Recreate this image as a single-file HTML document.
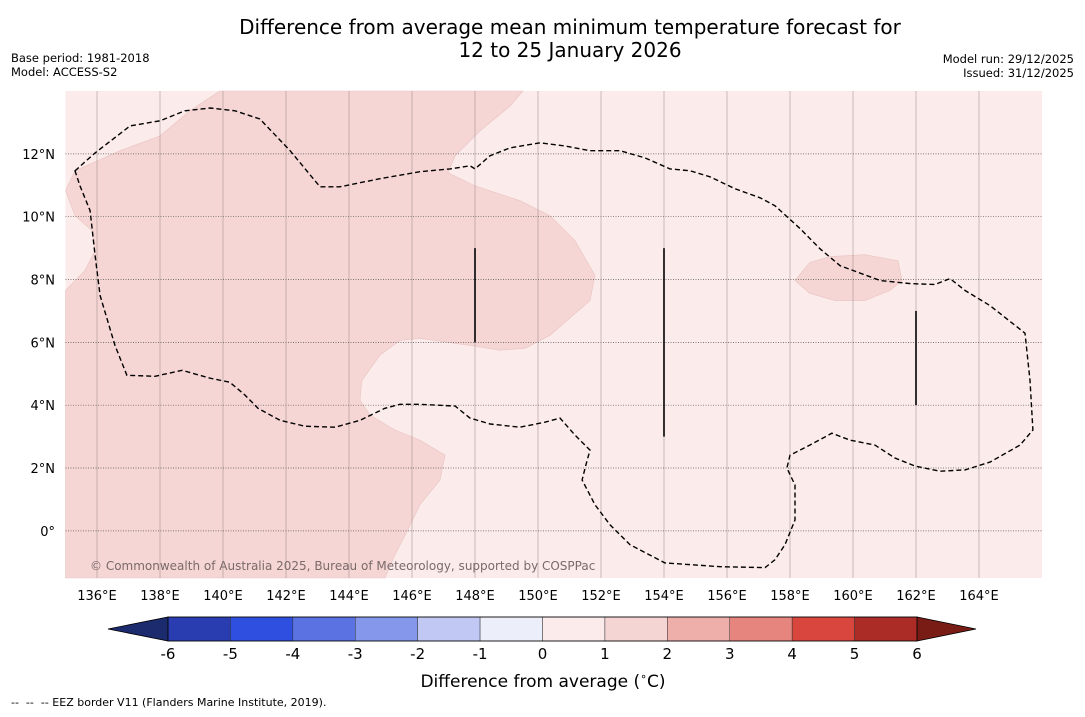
<!DOCTYPE html>
<html><head><meta charset="utf-8">
<style>
body{margin:0;background:#fff;width:1085px;height:713px;overflow:hidden;font-family:"DejaVu Sans","Liberation Sans",sans-serif;}
svg text{font-family:"DejaVu Sans","Liberation Sans",sans-serif;}
</style></head>
<body>
<svg id="chart" width="1085" height="713" xmlns="http://www.w3.org/2000/svg">
<text x="570" y="34" font-size="20" text-anchor="middle" fill="#000">Difference from average mean minimum temperature forecast for</text>
<text x="570" y="57" font-size="20" text-anchor="middle" fill="#000">12 to 25 January 2026</text>
<text x="11" y="62" font-size="11.5">Base period: 1981-2018</text>
<text x="11" y="76" font-size="11.5">Model: ACCESS-S2</text>
<text x="1074" y="63" font-size="11.5" text-anchor="end">Model run: 29/12/2025</text>
<text x="1074" y="77" font-size="11.5" text-anchor="end">Issued: 31/12/2025</text>
<g id="map"></g>
<g id="cbar"></g>
<text x="543" y="687" font-size="17" text-anchor="middle">Difference from average (<tspan font-size="11" dy="-7">∘</tspan><tspan dy="7">C)</tspan></text>
<text x="11" y="706" font-size="11" xml:space="preserve">--  --  -- EEZ border V11 (Flanders Marine Institute, 2019).</text>
</svg>
<script>
const lonTicks=[136,138,140,142,144,146,148,150,152,154,156,158,160,162,164];
const latTicks=[0,2,4,6,8,10,12];
const cbLevels=[-6,-5,-4,-3,-2,-1,0,1,2,3,4,5,6];
const cbColors=["#2a3db0","#2f4fe0","#5a72e2","#8597ea","#c1c8f3","#eceef9","#fbeceb","#f5d5d3","#eeaea9","#e6857e","#d9463d","#ab2b26"];
const darkRegionLon=[135,135.3,136.73,138.0,138.95,139.9,149.52,149.11,148.16,147.37,147.14,148.0,149.43,150.38,151.17,151.81,151.65,150.38,149.59,148.79,147.84,146.25,145.62,144.98,144.41,144.35,144.67,145.46,146.25,147.05,146.89,146.25,145.87,145.46,145.14,135,135,135.62,135.94,135.84,135.3];
const darkRegionLat=[10.83,11.46,12.10,12.57,13.37,14,14,13.52,12.73,11.94,11.40,10.98,10.51,10.03,9.24,8.13,7.33,6.22,5.81,5.75,5.90,6.13,6.06,5.59,4.79,4.16,3.68,3.21,2.89,2.41,1.62,0.83,0.03,-0.76,-1.5,-1.5,7.65,8.29,8.92,9.56,10.03];
const blobLon=[158.16,158.63,159.27,160.38,161.43,161.56,161.17,160.38,159.43,158.63];
const blobLat=[7.97,8.54,8.73,8.79,8.60,7.97,7.65,7.33,7.33,7.56];
const contourLon=[135.30,135.94,137.05,138.0,138.79,139.59,140.38,141.17,142.13,143.08,143.71,144.98,146.25,147.21,147.84,148.0,148.48,149.11,150.06,150.86,151.65,152.60,153.40,154.19,154.83,155.46,156.25,157.05,157.52,158.32,158.95,159.59,160.86,161.81,162.60,163.08,163.56,164.35,165.46,165.62,165.71,165.30,164.35,163.56,162.76,161.97,161.33,160.70,159.90,159.33,158.63,158.0,157.90,158.16,158.16,157.84,157.52,157.21,155.78,154.03,152.92,152.29,151.81,151.40,151.52,151.65,151.17,150.70,150.22,149.43,148.48,147.84,147.37,146.25,145.62,145.14,144.35,143.56,142.60,141.81,141.11,140.70,140.22,139.59,138.70,137.84,136.95,136.57,136.10,135.94,135.78,135.46];
const contourLat=[11.46,12.03,12.89,13.05,13.37,13.46,13.37,13.11,12.10,10.95,10.95,11.21,11.43,11.52,11.62,11.52,11.94,12.19,12.35,12.25,12.10,12.10,11.87,11.52,11.46,11.27,10.89,10.60,10.35,9.62,8.98,8.44,7.97,7.87,7.84,8.03,7.65,7.17,6.29,4.79,3.21,2.73,2.19,1.94,1.90,2.06,2.32,2.73,2.89,3.11,2.73,2.41,2.0,1.46,0.35,-0.44,-0.92,-1.17,-1.14,-1.02,-0.44,0.19,0.83,1.62,2.10,2.57,3.05,3.59,3.46,3.30,3.40,3.59,3.97,4.03,4.03,3.90,3.52,3.30,3.33,3.52,3.90,4.32,4.73,4.86,5.11,4.92,4.95,5.90,7.49,8.76,10.19,10.98];
const ridgeLon=[148,154,162];
const ridgeLatTop=[9,9,7];
const ridgeLatBot=[6,3,4];

const NS="http://www.w3.org/2000/svg";
const X0=65.5,X1=1042,Y0=91,Y1=578,LON0=135,LON1=166,LAT0=-1.5,LAT1=14;
const px=l=>X0+(l-LON0)/(LON1-LON0)*(X1-X0);
const py=l=>Y1-(l-LAT0)/(LAT1-LAT0)*(Y1-Y0);
function mk(tag,attrs,parent){const e=document.createElementNS(NS,tag);for(const k in attrs)e.setAttribute(k,attrs[k]);parent.appendChild(e);return e;}
const map=document.getElementById('map');
const bg=mk('rect',{x:X0,y:Y0,width:X1-X0,height:Y1-Y0,fill:'#fbebea'},map);


function poly(lons,lats){return lons.map((l,i)=>px(l).toFixed(1)+','+py(lats[i]).toFixed(1)).join(' ');}
const dr=mk('polygon',{points:poly(darkRegionLon,darkRegionLat),fill:'#f5d6d4',stroke:'#e8c4c2','stroke-width':0.6},map);


const bl=mk('polygon',{points:poly(blobLon,blobLat),fill:'#f5d6d4',stroke:'#e8c4c2','stroke-width':0.6},map);


lonTicks.forEach(l=>{
  const g=mk('line',{x1:px(l),x2:px(l),y1:Y0,y2:Y1,stroke:'#8a7a7a','stroke-opacity':0.55,'stroke-width':0.8},map);
  
  
  const t=mk('text',{x:px(l),y:600,'font-size':13,'text-anchor':'middle'},map);
  t.textContent=l+'°E';
  
  
});
latTicks.forEach(l=>{
  const g=mk('line',{x1:X0,x2:X1,y1:py(l),y2:py(l),stroke:'#555','stroke-width':0.7,'stroke-dasharray':'1,1.5'},map);
  
  
  const t=mk('text',{x:55,y:py(l)+5,'font-size':13,'text-anchor':'end'},map);
  t.textContent=l===0?'0°':l+'°N';
  
  
});
const ct=mk('polygon',{points:poly(contourLon,contourLat),fill:'none',stroke:'#000','stroke-width':1.4,'stroke-dasharray':'5,3'},map);


ridgeLon.forEach((l,i)=>{
  const r=mk('line',{x1:px(l),x2:px(l),y1:py(ridgeLatTop[i]),y2:py(ridgeLatBot[i]),stroke:'#000','stroke-width':1.6},map);
  
  
});
const cr=mk('text',{x:90,y:570,'font-size':12,fill:'#7a6a6a'},map);
cr.textContent='© Commonwealth of Australia 2025, Bureau of Meteorology, supported by COSPPac';



const cb=document.getElementById('cbar');
const CB0=168,CB1=917,CT=617,CBt=641;
const cx=v=>CB0+(v-cbLevels[0])/(cbLevels[cbLevels.length-1]-cbLevels[0])*(CB1-CB0);
const le=mk('polygon',{points:`108,629 ${CB0},${CT} ${CB0},${CBt}`,fill:'#1c2a6e',stroke:'#000','stroke-width':0.8},cb);


const re=mk('polygon',{points:`976,629 ${CB1},${CT} ${CB1},${CBt}`,fill:'#7a1c16',stroke:'#000','stroke-width':0.8},cb);


cbColors.forEach((c,i)=>{
  const r=mk('rect',{x:cx(cbLevels[i]),y:CT,width:cx(cbLevels[i+1])-cx(cbLevels[i]),height:CBt-CT,fill:c,stroke:'#333','stroke-width':0.5},cb);
  
  
});
mk('rect',{x:CB0,y:CT,width:CB1-CB0,height:CBt-CT,fill:'none',stroke:'#000','stroke-width':0.8},cb);
cbLevels.forEach(v=>{
  const t=mk('text',{x:cx(v),y:659,'font-size':15,'text-anchor':'middle'},cb);
  t.textContent=v;
  
  
});
</script>
</body></html>
